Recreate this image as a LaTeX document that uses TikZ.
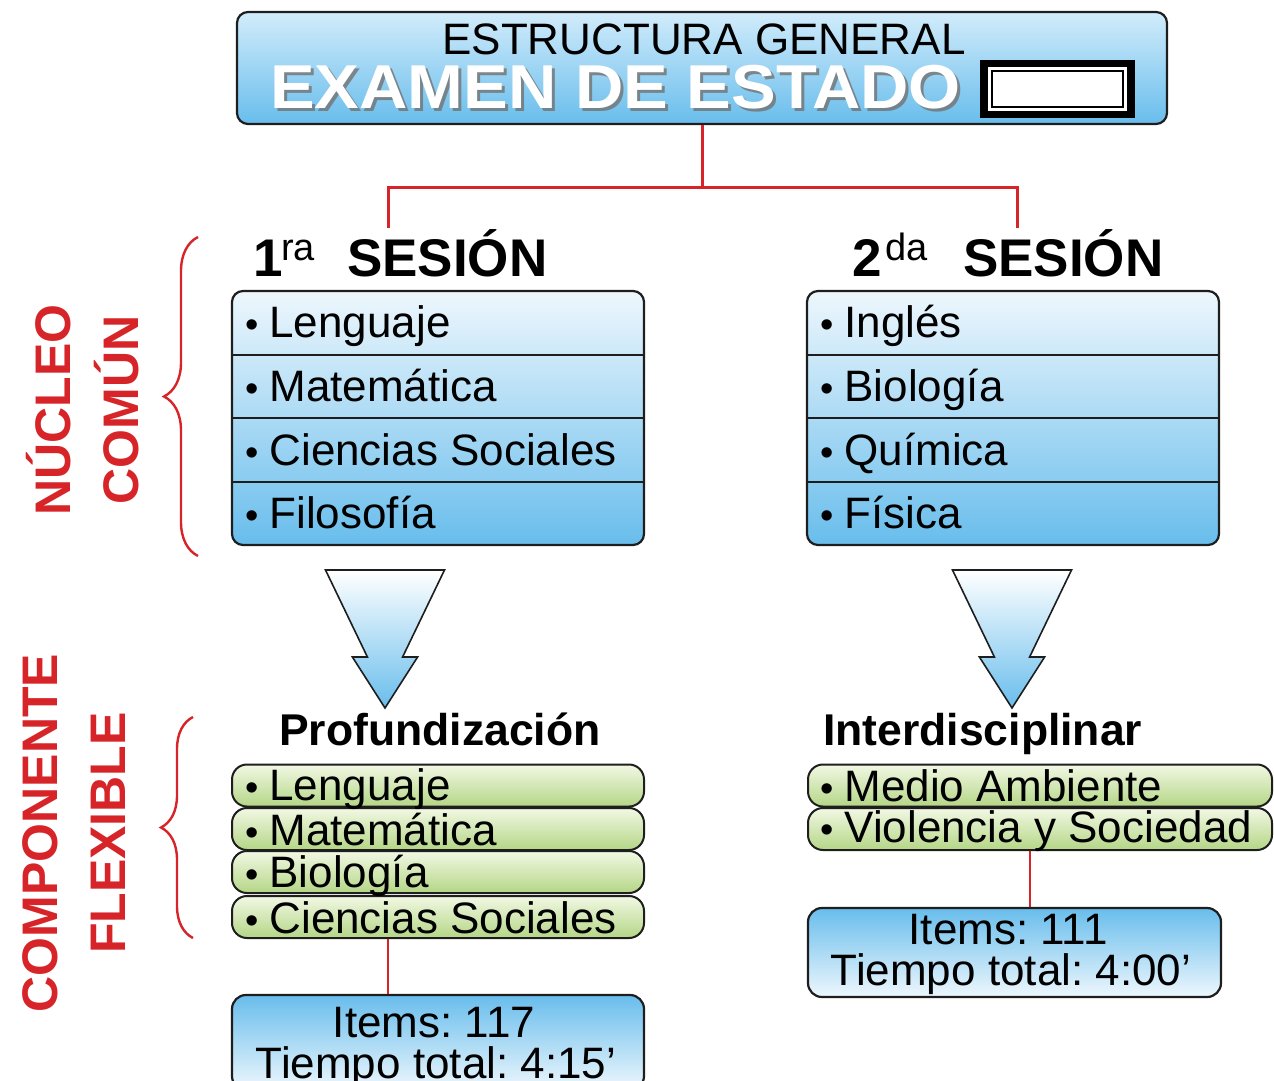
\documentclass[tikz,border=0pt]{standalone}
\usepackage{fontspec}
\setmainfont{Liberation Sans}
\newfontfamily\widefont[FakeStretch=1.08]{Liberation Sans}
\usetikzlibrary{decorations.pathreplacing}
\frenchspacing
\definecolor{lred}{RGB}{214,36,40}
\definecolor{bluetop}{RGB}{238,247,253}
\definecolor{bluebot}{RGB}{104,189,236}
\definecolor{titletop}{RGB}{210,236,251}
\definecolor{greentop}{RGB}{242,248,228}
\definecolor{greenbot}{RGB}{180,214,134}
\definecolor{outl}{RGB}{30,30,30}
\newcommand{\bul}{{\fontsize{38}{38}\selectfont •}\hspace{11pt}}
\tikzset{
  redline/.style={draw=lred, line width=3pt},
  bluebox/.style={draw=outl, line width=2.2pt, rounded corners=11pt, top color=bluetop, bottom color=bluebot, inner sep=0, minimum width=412pt},
  infobox/.style={draw=outl, line width=2.2pt, rounded corners=14pt, top color=bluebot, bottom color=bluetop, inner sep=0},
  greenbox/.style={draw=outl, line width=2pt, rounded corners=15pt, top color=greentop, bottom color=greenbot, inner sep=0, minimum height=42pt},
  item/.style={anchor=base west, inner sep=0, font=\fontsize{44}{50}\selectfont},
  ctext/.style={anchor=base, inner sep=0, font=\fontsize{44}{50}\selectfont},
  head/.style={anchor=base west, inner sep=0, font=\fontsize{53}{58}\selectfont\bfseries},
  sup/.style={anchor=base west, inner sep=0, font=\fontsize{38}{40}\selectfont},
  sub/.style={anchor=base west, inner sep=0, font=\fontsize{44.5}{50}\selectfont\bfseries},
  sidelabel/.style={anchor=base, inner sep=0, rotate=90, text=lred, font=\fontsize{50}{55}\selectfont\bfseries},
  bigarrow/.style={draw=outl, line width=1.6pt, top color=white, bottom color=bluebot},
  bracestyle/.style={draw=lred, line width=2.4pt, decorate},
}
\begin{document}
\begin{tikzpicture}[x=1pt,y=-1pt]
\useasboundingbox (0,0) rectangle (1274,1081);

% title
\node[draw=outl, line width=2.2pt, rounded corners=11pt, top color=titletop, bottom color=bluebot,
      minimum width=930pt, minimum height=112pt, inner sep=0] (title) at (702,68) {};
\node[anchor=base, inner sep=0, font=\fontsize{44}{48}\selectfont] (t1) at (704,55) {ESTRUCTURA GENERAL};
\node[anchor=base west, inner sep=0, text=black!55, opacity=0.8, font=\widefont\fontsize{62}{66}\selectfont\bfseries] (t2s) at (273,111) {EXAMEN DE ESTADO};
\node[anchor=base west, inner sep=0, text=white, font=\widefont\fontsize{62}{66}\selectfont\bfseries] (t2) at (270,108) {EXAMEN DE ESTADO};
\node[fill=black, minimum width=155pt, minimum height=58pt, inner sep=0] (blk) at (1057.5,89) {};
\node[fill=white, minimum width=139pt, minimum height=44pt, inner sep=0] (blkin) at (1057.5,89) {};
\node[draw=black, line width=1.2pt, minimum width=131pt, minimum height=36pt, inner sep=0] (blkln) at (1057.5,89) {};

% red tree
\coordinate (jL) at (388,187);
\coordinate (jR) at (1017,187);
\coordinate (eL) at (388,228);
\coordinate (eR) at (1017,228);
\draw[redline] (title.south) -- (title.south |- jL);
\draw[redline, line cap=rect] (jL) -- (jR);
\draw[redline] (jL) -- (eL);
\draw[redline] (jR) -- (eR);

% headers
\node[head] (h1n) at (253,276) {1};
\node[sup] (h1s) at (281,260) {ra};
\node[head] (h1) at (347,276) {SESIÓN};
\node[head] (h2n) at (852,276) {2};
\node[sup] (h2s) at (885,260) {da};
\node[head] (h2) at (963,276) {SESIÓN};

% session boxes
\node[bluebox, minimum height=254pt] (s1) at (438,418) {};
\node[bluebox, minimum height=254pt] (s2) at (1013,418) {};
\foreach \yy in {355,418,482}{
  \draw[outl, line width=2pt] (s1.west |- 0,\yy) -- (s1.east |- 0,\yy);
  \draw[outl, line width=2pt] (s2.west |- 0,\yy) -- (s2.east |- 0,\yy);
}
\node[item] (a1) at (245,337) {\bul Lenguaje};
\node[item] (a2) at (245,401) {\bul Matemática};
\node[item] (a3) at (245,465) {\bul Ciencias Sociales};
\node[item] (a4) at (245,528) {\bul Filosofía};
\node[item] (b1) at (820,337) {\bul Inglés};
\node[item] (b2) at (820,401) {\bul Biología};
\node[item] (b3) at (820,465) {\bul Química};
\node[item] (b4) at (820,528) {\bul Física};

% big arrows
\draw[bigarrow] (325.5,570) -- (444.5,570) -- (402.6,657) -- (417.6,657) -- (385,708) -- (352.4,657) -- (367.4,657) -- cycle;
\draw[bigarrow] (952.5,570) -- (1071.5,570) -- (1029.6,657) -- (1044.6,657) -- (1012,708) -- (979.4,657) -- (994.4,657) -- cycle;

% sub headers
\node[sub] (p) at (279,745) {Profundización};
\node[sub] (q) at (823,745) {Interdisciplinar};

% green boxes left
\node[greenbox, minimum width=412pt] (g1a) at (438,785.5) {};
\node[greenbox, minimum width=412pt] (g1b) at (438,829) {};
\node[greenbox, minimum width=412pt] (g1c) at (438,872) {};
\node[greenbox, minimum width=412pt] (g1d) at (438,917) {};
\node[item] (c1) at (245,800) {\bul Lenguaje};
\node[item] (c2) at (245,845) {\bul Matemática};
\node[item] (c3) at (245,887) {\bul Biología};
\node[item] (c4) at (245,933) {\bul Ciencias Sociales};

% green boxes right
\node[greenbox, minimum width=464pt] (g2a) at (1040,785.5) {};
\node[greenbox, minimum width=464pt] (g2b) at (1040,829) {};
\node[item] (d1) at (820,801) {\bul Medio Ambiente};
\node[item] (d2) at (820,842) {\bul Violencia y Sociedad};

% info boxes
\coordinate (xL) at (388,0);
\coordinate (xR) at (1030,0);
\node[infobox, minimum width=412pt, minimum height=95pt] (i1) at (438,1042.5) {};
\node[infobox, minimum width=413pt, minimum height=89pt] (i2) at (1014.5,952.5) {};
\draw[redline, line width=2.4pt] (g1d.south -| xL) -- (i1.north -| xL);
\draw[redline, line width=2.4pt] (g2b.south -| xR) -- (i2.north -| xR);
\node[ctext] (i1a) at (434,1037) {Items: 117};
\node[ctext] (i1b) at (436,1078) {Tiempo total: 4:15’};
\node[ctext] (i2a) at (1008,944) {Items: 111};
\node[ctext] (i2b) at (1011,985) {Tiempo total: 4:00’};

% braces and side labels
\draw[bracestyle, decoration={brace, amplitude=34pt, aspect=0.5}] (198,556) -- (198,237);
\draw[bracestyle, decoration={brace, amplitude=32pt, aspect=0.5}] (193,938) -- (193,717);
\node[sidelabel] (n1) at (70,410) {NÚCLEO};
\node[sidelabel] (n2) at (138,410) {COMÚN};
\node[sidelabel] (m1) at (57,833) {COMPONENTE};
\node[sidelabel] (m2) at (125,833) {FLEXIBLE};
\end{tikzpicture}
\end{document}
